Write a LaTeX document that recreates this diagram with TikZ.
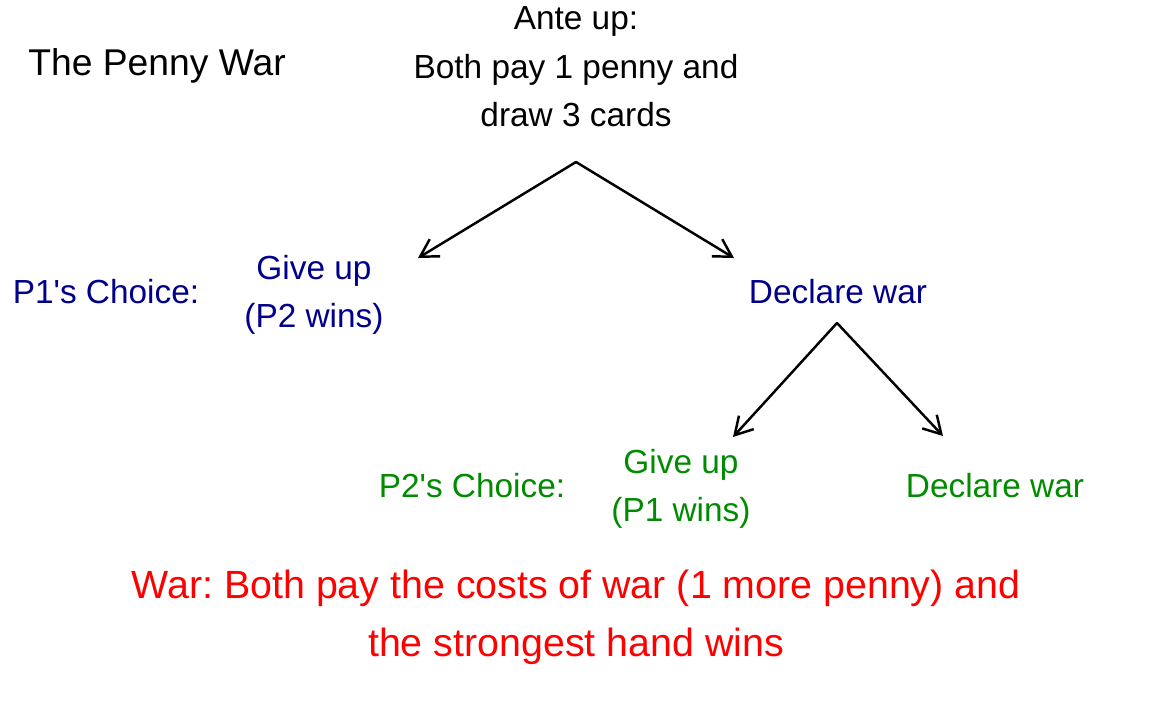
\documentclass[tikz,border=0pt]{standalone}
\usepackage{fontspec}
\setmainfont{Liberation Sans}
\usetikzlibrary{arrows.meta}

\definecolor{pOneBlue}{RGB}{0,0,139}
\definecolor{pTwoGreen}{RGB}{0,139,0}

\frenchspacing

\begin{document}
\begin{tikzpicture}[x=0.02cm, y=-0.02cm,
            lbl/.style={align=center, inner sep=0pt, font=\fontsize{19}{27.6}\selectfont},
            pone/.style={lbl, text=pOneBlue},
            ptwo/.style={lbl, text=pTwoGreen},
            branch/.style={-{Straight Barb[angle=60:0.4cm]}, line width=1.4pt, line cap=round, line join=round}]

    \useasboundingbox (0,0) rectangle (1152,711);

    % title and the ante
    \node[lbl, font=\fontsize{21.2}{30}\selectfont] (title) at (157,66) {The Penny War};
    \node[lbl] (ante) at (576,67) {Ante up:\\Both pay 1 penny and\\draw 3 cards};

    % first move: player one
    \node[pone] (p1label) at (106,292) {P1\textquotesingle s Choice:};
    \node[pone] (p1giveup) at (314,295) {Give up\\(P2 wins)};
    \node[pone] (p1war) at (838,292) {Declare war};

    % second move: player two
    \node[ptwo] (p2label) at (472,486) {P2\textquotesingle s Choice:};
    \node[ptwo] (p2giveup) at (681,489) {Give up\\(P1 wins)};
    \node[ptwo] (p2war) at (995,486) {Declare war};

    % what war means
    \node[lbl, text=red, font=\fontsize{22.4}{33}\selectfont] (warnote) at (576,617)
        {War: Both pay the costs of war (1 more penny) and\\the strongest hand wins};

    % fork points and arrow ends
    \coordinate (antefork) at (576,162);
    \coordinate (tipgiveup1) at (418,258);
    \coordinate (tipwar1) at (734,258);
    \coordinate (warfork) at (837,323);
    \coordinate (tipgiveup2) at (733,437);
    \coordinate (tipwar2) at (943,436);

    \draw[branch] (antefork) -- (tipgiveup1);
    \draw[branch] (antefork) -- (tipwar1);
    \draw[branch] (warfork) -- (tipgiveup2);
    \draw[branch] (warfork) -- (tipwar2);
\end{tikzpicture}
\end{document}
